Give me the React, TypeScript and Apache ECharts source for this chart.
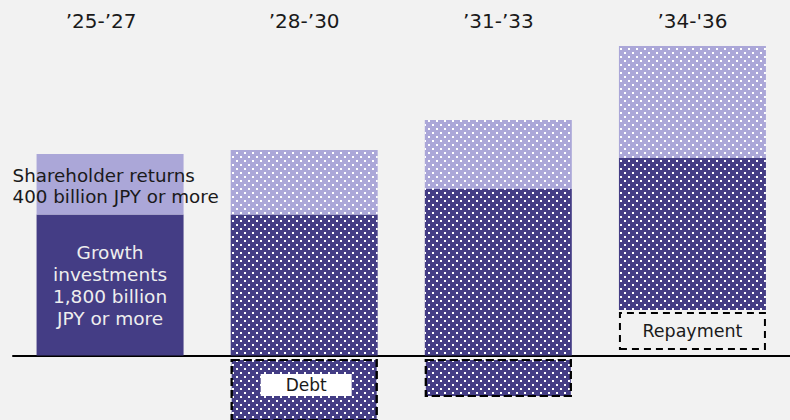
import React, { useEffect, useRef } from "react";
import * as echarts from "echarts";

const periods = ["’25-’27", "’28-’30", "’31-’33", "’34-'36"];
// pixel-like schematic units above / below the baseline
const repayOffset = [null, null, null, 5.5];
const repayment = [null, null, null, 38];
const repayGap = [null, null, null, 2];
const growthSolid = [141, null, null, null];
const growthDotted = [null, 141, 166.5, 152];
const shareSolid = [60.5, null, null, null];
const shareDotted = [null, 64.5, 69, 112];
const debtGap = [null, -3.5, -3.5, null];
const debt = [null, -70, -38, null];

const DARK = "#443d85";
const LIGHT = "#aba7d8";
const BG = "#f2f2f2";
const FONT = "DejaVu Sans, Verdana, sans-serif";

const dots = {
  symbol: "rect",
  symbolSize: 1,
  color: "rgba(255,255,255,1)",
  dashArrayX: [[2, 6], [0, 4, 2, 2]],
  dashArrayY: [2, 2],
  rotation: 0,
};

export default function App() {
  const ref = useRef<HTMLDivElement>(null);
  useEffect(() => {
    document.body.style.margin = "0";
    document.body.style.background = BG;
    const chart = echarts.init(ref.current!, null, { renderer: "svg" });
    const transparent = { color: "rgba(0,0,0,0)" };
    const base = {
      type: "bar",
      barWidth: 147,
      barGap: "-100%",
      xAxisIndex: 0,
      yAxisIndex: 0,
      silent: true,
    };
    chart.setOption({
      animation: false,
      backgroundColor: BG,
      textStyle: { fontFamily: FONT },
      grid: { left: 13, right: 0.5, top: 0, bottom: 0 },
      xAxis: [
        {
          type: "category",
          data: periods,
          axisLine: { show: true, onZero: true, lineStyle: { color: "#000", width: 2 } },
          axisTick: { show: false },
          axisLabel: { show: false },
        },
        {
          type: "category",
          data: periods,
          position: "top",
          axisLine: { show: false },
          axisTick: { show: false },
          axisLabel: {
            inside: true,
            margin: 11,
            fontSize: 20,
            color: "#1a1a1a",
            fontFamily: FONT,
            formatter: (v: string, i: number) => (i === 0 ? "{a|" + v + "}" : "{b|" + v + "}"),
            rich: {
              a: { fontSize: 20, color: "#1a1a1a", fontFamily: FONT, padding: [0, 18, 0, 0] },
              b: { fontSize: 20, color: "#1a1a1a", fontFamily: FONT },
            },
          },
        },
      ],
      yAxis: { type: "value", min: -64.5, max: 355.5, show: false },
      series: [
        { ...base, name: "off1", stack: "pos", data: repayOffset, itemStyle: transparent },
        {
          ...base,
          name: "Repayment",
          stack: "pos",
          data: repayment,
          itemStyle: { color: BG, borderColor: "#000", borderWidth: 2, borderType: [7, 5] },
          label: { show: true, position: "inside", formatter: "Repayment", fontSize: 17.5, color: "#1a1a1a", fontFamily: FONT },
        },
        { ...base, name: "off2", stack: "pos", data: repayGap, itemStyle: transparent },
        {
          ...base,
          name: "GrowthSolid",
          stack: "pos",
          data: growthSolid,
          itemStyle: { color: DARK },
          label: {
            show: true,
            position: "inside",
            formatter: "Growth\ninvestments\n1,800 billion\nJPY or more",
            fontSize: 18.5,
            lineHeight: 22,
            color: "#eeeeee",
            fontFamily: FONT,
          },
        },
        {
          ...base,
          name: "GrowthDotted",
          stack: "pos",
          data: growthDotted,
          itemStyle: { color: DARK, decal: dots },
        },
        {
          ...base,
          name: "ShareSolid",
          stack: "pos",
          data: shareSolid,
          itemStyle: { color: LIGHT },
          label: {
            show: true,
            position: "insideLeft",
            distance: 0,
            offset: [-24, 2],
            align: "left",
            formatter: "Shareholder returns\n400 billion JPY or more",
            fontSize: 18.3,
            lineHeight: 21,
            color: "#1a1a1a",
            fontFamily: FONT,
          },
        },
        {
          ...base,
          name: "ShareDotted",
          stack: "pos",
          data: shareDotted,
          itemStyle: { color: LIGHT, decal: dots },
        },
        { ...base, name: "debtGap", stack: "neg", data: debtGap, itemStyle: transparent },
        {
          ...base,
          name: "Debt",
          stack: "neg",
          data: debt.map((v, i) =>
            i === 1
              ? {
                  value: v,
                  label: {
                    show: true,
                    position: "inside",
                    offset: [2, -5],
                    formatter: "Debt",
                    fontSize: 17,
                    lineHeight: 18,
                    color: "#1a1a1a",
                    backgroundColor: "#ffffff",
                    padding: [2, 25, 2, 25],
                    fontFamily: FONT,
                  },
                }
              : v
          ),
          itemStyle: { color: DARK, decal: dots, borderColor: "#000", borderWidth: 2, borderType: [8, 4] },
        },
      ],
    });
    return () => chart.dispose();
  }, []);
  return (
    <div
      ref={ref}
      style={{ position: "fixed", left: 0, top: 0, width: 790, height: 420, background: BG }}
    />
  );
}
